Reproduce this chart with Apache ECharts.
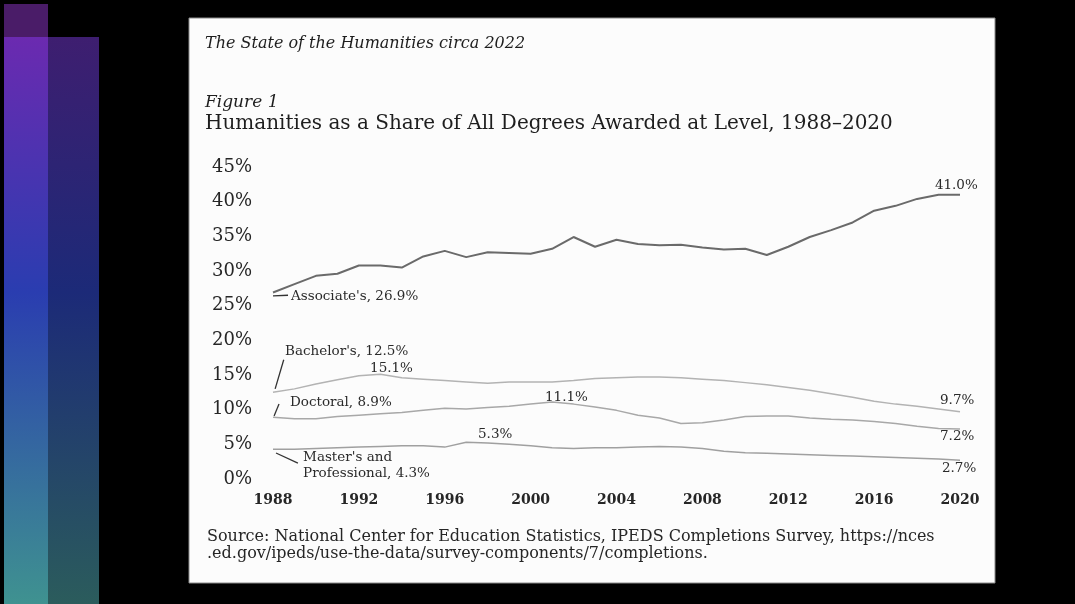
<!DOCTYPE html>
<html>
<head>
<meta charset="utf-8">
<title>Humanities as a Share of All Degrees</title>
<script src="https://cdn.jsdelivr.net/npm/echarts@6/dist/echarts.min.js"></script>
<style>
	html, body { margin: 0; padding: 0; background: #000; }
	#main { width: 1075px; height: 604px; }
</style>
</head>
<body>
<div id="main"></div>
<script>
// 年份 / 刻度
var years = [1988,1989,1990,1991,1992,1993,1994,1995,1996,1997,1998,1999,2000,2001,2002,2003,2004,
	2005,2006,2007,2008,2009,2010,2011,2012,2013,2014,2015,2016,2017,2018,2019,2020];
var yearTicks = [1988,1992,1996,2000,2004,2008,2012,2016,2020];
var pctTicks = [0,5,10,15,20,25,30,35,40,45];

// 各层级人文学科占比 (%)
var associate = [26.9,28.1,29.3,29.6,30.8,30.8,30.5,32.1,32.9,32.0,32.7,32.6,32.5,33.2,34.9,33.5,34.5,
	33.9,33.7,33.8,33.4,33.1,33.2,32.3,33.5,34.9,35.9,37.0,38.7,39.4,40.4,41.0,41.0];
var bachelor = [12.5,13.0,13.7,14.3,14.9,15.1,14.6,14.4,14.2,14.0,13.8,14.0,14.0,14.0,14.2,14.5,14.6,
	14.7,14.7,14.6,14.4,14.2,13.9,13.6,13.2,12.8,12.3,11.8,11.2,10.8,10.5,10.1,9.7];
var doctoral = [8.9,8.7,8.7,9.0,9.2,9.4,9.6,9.9,10.2,10.1,10.3,10.5,10.8,11.1,10.8,10.4,9.9,
	9.2,8.8,8.0,8.1,8.5,9.0,9.1,9.1,8.8,8.6,8.5,8.3,8.0,7.6,7.3,7.2];
var master = [4.3,4.3,4.4,4.5,4.6,4.7,4.8,4.8,4.6,5.3,5.2,5.0,4.8,4.5,4.4,4.5,4.5,
	4.6,4.7,4.6,4.4,4.0,3.8,3.7,3.6,3.5,3.4,3.3,3.2,3.1,3.0,2.9,2.7];

function pairs(vals){
	var out = [];
	for(var i = 0; i < years.length; i++) out.push([years[i], vals[i]]);
	return out;
}

var serif = 'DejaVu Serif';

// 文字注释 (markPoint, 无符号)
function note(coord, text){
	return {
		coord: coord,
		symbolSize: 0,
		label: {
			show: true, formatter: text, position: 'inside', align: 'left', verticalAlign: 'middle',
			fontFamily: serif, fontSize: 13.5, color: '#2a2a2a', lineHeight: 16
		}
	};
}
function leader(a, b){
	return [{ coord: a }, { coord: b }];
}
var leaderStyle = { color: '#333', width: 1.3, type: 'solid' };

var myChart = echarts.init(document.getElementById('main'));
var option = {
	backgroundColor: '#000',
	animation: false,
	graphic: [
		// 左侧装饰条
		{ type: 'rect', z: -20, shape: { x: 4, y: 4, width: 44, height: 33 }, style: { fill: '#4a1c68' } },
		{ type: 'rect', z: -20, shape: { x: 4, y: 37, width: 44, height: 567 },
			style: { fill: new echarts.graphic.LinearGradient(0, 0, 0, 1, [
				{ offset: 0, color: '#6b2ab0' },
				{ offset: 0.45, color: '#2a3db0' },
				{ offset: 1, color: '#3f9290' }
			]) } },
		{ type: 'rect', z: -20, shape: { x: 48, y: 37, width: 51, height: 567 },
			style: { fill: new echarts.graphic.LinearGradient(0, 0, 0, 1, [
				{ offset: 0, color: '#3e1e70' },
				{ offset: 0.45, color: '#1c2a78' },
				{ offset: 1, color: '#2b5c5c' }
			]) } },
		// 纸张
		{ type: 'rect', z: -10, shape: { x: 189, y: 18, width: 806, height: 565 },
			style: { fill: '#fcfcfc', stroke: '#8a8a8a', lineWidth: 1 } }
	],
	title: [
		{ text: 'The State of the Humanities circa 2022', left: 205, top: 36, padding: 0,
			textStyle: { fontFamily: serif, fontStyle: 'italic', fontWeight: 'normal', fontSize: 16, color: '#1e1e1e' } },
		{ text: 'Figure 1', left: 205, top: 94, padding: 0,
			textStyle: { fontFamily: serif, fontStyle: 'italic', fontWeight: 'normal', fontSize: 17, color: '#1e1e1e' } },
		{ text: 'Humanities as a Share of All Degrees Awarded at Level, 1988\u20132020', left: 205, top: 114, padding: 0,
			textStyle: { fontFamily: serif, fontWeight: 'normal', fontSize: 20, color: '#1e1e1e' } },
		{ text: 'Source: National Center for Education Statistics, IPEDS Completions Survey, https://nces\n.ed.gov/ipeds/use-the-data/survey-components/7/completions.',
			left: 207, top: 528, padding: 0,
			textStyle: { fontFamily: serif, fontWeight: 'normal', fontSize: 16, lineHeight: 17, color: '#262626' } }
	],
	grid: { left: 273, right: 115, top: 167, bottom: 125 },
	xAxis: {
		type: 'value', min: 1988, max: 2020, interval: 4,
		axisLine: { show: false }, axisTick: { show: false }, splitLine: { show: false },
		axisLabel: {
			customValues: yearTicks, margin: 14,
			formatter: function(v){ return String(v); },
			fontFamily: serif, fontSize: 14, fontWeight: 'bold', color: '#262626'
		}
	},
	yAxis: {
		type: 'value', min: 0, max: 45, interval: 5,
		axisLine: { show: false }, axisTick: { show: false }, splitLine: { show: false },
		axisLabel: {
			customValues: pctTicks, margin: 21,
			formatter: function(v){ return v + '%'; },
			fontFamily: serif, fontSize: 18, color: '#262626'
		}
	},
	series: [
		{
			name: "Associate's", type: 'line', data: pairs(associate), symbol: 'none',
			lineStyle: { color: '#6a6a6a', width: 2 },
			markPoint: { data: [
				note([1988.84, 26.3], "Associate's, 26.9%"),
				note([2018.83, 42.4], '41.0%')
			] },
			markLine: { symbol: 'none', silent: true, label: { show: false }, lineStyle: leaderStyle,
				data: [leader([1988.0, 26.4], [1988.7, 26.5])] }
		},
		{
			name: "Bachelor's", type: 'line', data: pairs(bachelor), symbol: 'none',
			lineStyle: { color: '#b3b3b3', width: 1.5 },
			markPoint: { data: [
				note([1988.56, 18.4], "Bachelor's, 12.5%"),
				note([1992.52, 16.0], '15.1%'),
				note([2019.07, 11.3], '9.7%')
			] },
			markLine: { symbol: 'none', silent: true, label: { show: false }, lineStyle: leaderStyle,
				data: [leader([1988.1, 13.0], [1988.5, 17.2])] }
		},
		{
			name: 'Doctoral', type: 'line', data: pairs(doctoral), symbol: 'none',
			lineStyle: { color: '#a8a8a8', width: 1.5 },
			markPoint: { data: [
				note([1988.79, 11.0], 'Doctoral, 8.9%'),
				note([2000.67, 11.8], '11.1%'),
				note([2019.07, 6.1], '7.2%')
			] },
			markLine: { symbol: 'none', silent: true, label: { show: false }, lineStyle: leaderStyle,
				data: [leader([1988.05, 9.1], [1988.28, 10.8])] }
		},
		{
			name: "Master's and Professional", type: 'line', data: pairs(master), symbol: 'none',
			lineStyle: { color: '#a0a0a0', width: 1.5 },
			markPoint: { data: [
				note([1989.4, 2.0], "Master's and\nProfessional, 4.3%"),
				note([1997.55, 6.35], '5.3%'),
				note([2019.16, 1.45], '2.7%')
			] },
			markLine: { symbol: 'none', silent: true, label: { show: false }, lineStyle: leaderStyle,
				data: [leader([1988.14, 3.75], [1989.16, 2.3])] }
		}
	]
};
myChart.setOption(option);
</script>
</body>
</html>
